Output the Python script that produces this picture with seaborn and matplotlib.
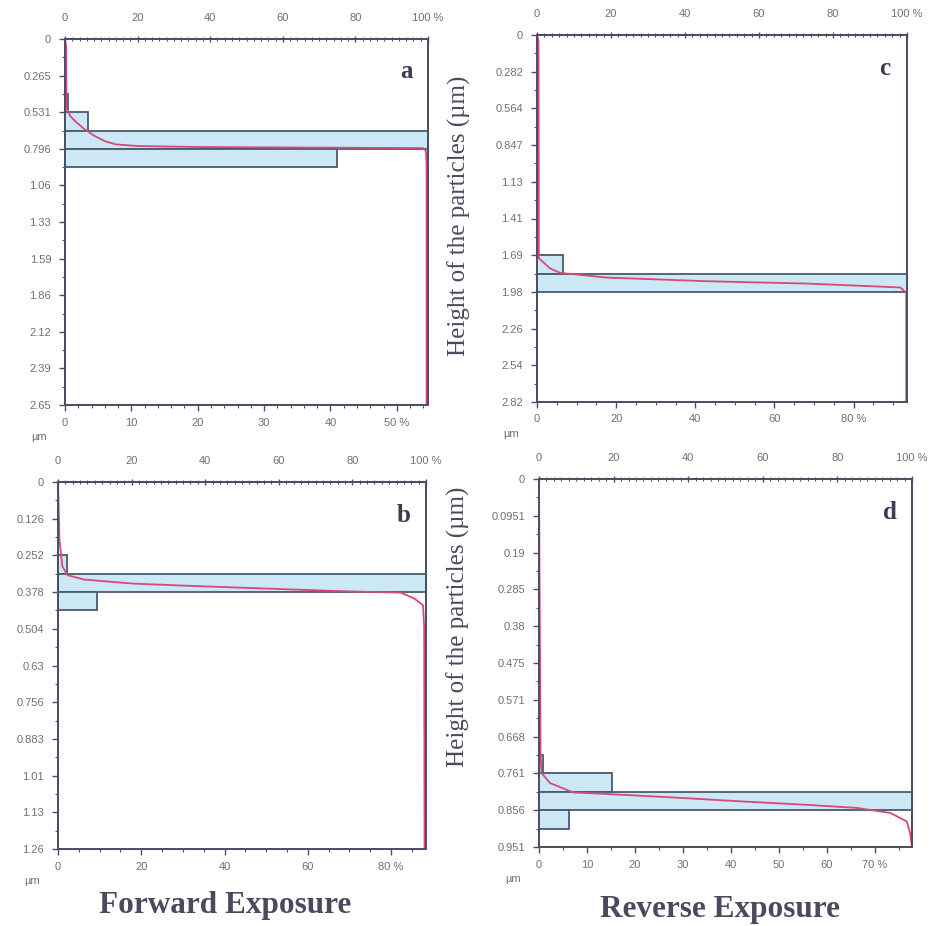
import numpy as np
import pandas as pd
import matplotlib
matplotlib.use("Agg")
import matplotlib.pyplot as plt
from matplotlib.ticker import FixedLocator, MultipleLocator
import seaborn as sns

# ---- panel a (forward exposure) ----
a_depth_max = 2.65
a_yticklabels = ["0", "0.265", "0.531", "0.796", "1.06", "1.33", "1.59", "1.86", "2.12", "2.39", "2.65"]
a_bin_height = [0.464, 0.596, 0.729, 0.861]
a_bin_pct = [0.4, 3.5, 54.7, 41.0]
a_curve_pct = [0, 0.3, 0.4, 1.5, 3, 5, 8, 11, 14, 20, 37, 74, 98.6, 99.4, 99.6, 99.6]
a_curve_depth = [0, 0.05, 0.50, 0.56, 0.60, 0.645, 0.70, 0.74, 0.763, 0.775, 0.782, 0.787, 0.79, 0.81, 0.9, 2.65]

# ---- panel b (forward exposure) ----
b_depth_max = 1.26
b_yticklabels = ["0", "0.126", "0.252", "0.378", "0.504", "0.63", "0.756", "0.883", "1.01", "1.13", "1.26"]
b_bin_height = [0.2835, 0.3465, 0.4095]
b_bin_pct = [2.1, 88.4, 9.3]
b_curve_pct = [0, 0.4, 1.2, 2.6, 7.1, 20.6, 38.8, 57, 75, 93.2, 96.8, 99.2, 99.5, 99.6]
b_curve_depth = [0, 0.2, 0.29, 0.32, 0.335, 0.349, 0.358, 0.366, 0.374, 0.38, 0.40, 0.423, 0.5, 1.26]

# ---- panel c (reverse exposure) ----
c_depth_max = 2.82
c_yticklabels = ["0", "0.282", "0.564", "0.847", "1.13", "1.41", "1.69", "1.98", "2.26", "2.54", "2.82"]
c_bin_height = [1.7625, 1.9035]
c_bin_pct = [6.5, 93.5]
c_curve_pct = [0, 0.4, 0.5, 3.6, 6.3, 18.9, 46, 73, 98.2, 99.8, 99.8]
c_curve_depth = [0, 0.05, 1.715, 1.795, 1.828, 1.864, 1.892, 1.91, 1.94, 1.98, 2.82]

# ---- panel d (reverse exposure) ----
d_depth_max = 0.951
d_yticklabels = ["0", "0.0951", "0.19", "0.285", "0.38", "0.475", "0.571", "0.668", "0.761", "0.856", "0.951"]
d_bin_height = [0.737, 0.785, 0.832, 0.880]
d_bin_pct = [0.8, 15.2, 77.8, 6.2]
d_curve_pct = [0, 0.4, 0.7, 3, 9.2, 18.2, 36, 54, 71.8, 85.2, 94.2, 98.6, 99.5, 100]
d_curve_depth = [0, 0.712, 0.76, 0.786, 0.81, 0.814, 0.823, 0.833, 0.842, 0.85, 0.863, 0.885, 0.915, 0.951]

W, H = 941, 926
FILL = "#cde8f5"
EDGE = "#4a5a70"
SPINE = "#4a5068"
RED = "#d84878"
TICKTXT = "#707070"
TEXT = "#4a4a5e"


def px_rect(left, top, right, bottom):
    return [left / W, 1 - bottom / H, (right - left) / W, (bottom - top) / H]


def draw_panel(fig, rect, depth_max, yticklabels, bin_height, bin_pct,
               curve_pct, curve_depth, bottom_step, bottom_minor, letter):
    ax = fig.add_axes(rect)
    hist_df = pd.DataFrame({"height": bin_height, "pct": bin_pct})
    sns.histplot(data=hist_df, y="height", weights="pct", bins=20,
                 binrange=(0, depth_max), ax=ax,
                 color=FILL, alpha=1, edgecolor=EDGE, linewidth=1.3)
    xmax = max(bin_pct)
    ax.set_xlim(0, xmax)
    ax.set_ylim(depth_max, 0)
    ax.set_xlabel("")
    ax.set_ylabel("")

    yt = np.linspace(0, depth_max, 11)
    ax.yaxis.set_major_locator(FixedLocator(yt))
    ax.set_yticklabels(yticklabels)
    ax.yaxis.set_minor_locator(FixedLocator((yt[:-1] + yt[1:]) / 2))
    bt = np.arange(0, xmax, bottom_step)
    ax.xaxis.set_major_locator(FixedLocator(bt))
    ax.set_xticklabels([f"{int(v)}" for v in bt[:-1]] + [f"{int(bt[-1])} %"])
    ax.xaxis.set_minor_locator(MultipleLocator(bottom_minor))
    ax.tick_params(axis="both", which="major", colors=SPINE, labelcolor=TICKTXT,
                   labelsize=8, length=4, width=1)
    ax.tick_params(axis="both", which="minor", colors=SPINE, length=2.5, width=0.8)
    ax.tick_params(axis="y", which="major", pad=6)
    ax.tick_params(axis="x", which="major", pad=5)

    curve_df = pd.DataFrame({"pct": curve_pct, "depth": curve_depth})
    ax2 = ax.twiny()
    sns.lineplot(data=curve_df, x="pct", y="depth", sort=False, estimator=None,
                 ax=ax2, color=RED, linewidth=1.3)
    ax2.set_xlim(0, 100)
    ax2.set_ylim(depth_max, 0)
    ax2.set_xlabel("")
    ax2.set_ylabel("")
    tt = np.arange(0, 101, 20)
    ax2.xaxis.set_major_locator(FixedLocator(tt))
    ax2.set_xticklabels([f"{v}" for v in tt[:-1]] + ["100 %"])
    ax2.xaxis.set_minor_locator(MultipleLocator(2))
    ax2.tick_params(axis="x", which="major", direction="inout", colors=SPINE,
                    labelcolor=TICKTXT, labelsize=8, length=5, width=1, pad=9)
    ax2.tick_params(axis="x", which="minor", direction="inout", colors=SPINE,
                    length=3, width=0.8)

    for a in (ax, ax2):
        for s in a.spines.values():
            s.set_color(SPINE)
            s.set_linewidth(1.4)

    ax.annotate("µm", xy=(0, 0), xycoords="axes fraction", xytext=(-26, -32),
                textcoords="offset pixels", ha="center", va="center",
                fontsize=8, color=TICKTXT)
    ax.text(0.94, 0.91, letter, transform=ax.transAxes, ha="center", va="center",
            fontsize=18, fontweight="bold", family="Liberation Serif", color="#3c3c50")
    return ax


def main():
    sns.set_style("ticks")
    plt.rcParams["font.family"] = ["Liberation Sans", "DejaVu Sans"]

    fig = plt.figure(figsize=(W / 100, H / 100), dpi=100)

    draw_panel(fig, px_rect(65, 39, 428, 405), a_depth_max, a_yticklabels,
               a_bin_height, a_bin_pct, a_curve_pct, a_curve_depth, 10, 2, "a")
    draw_panel(fig, px_rect(58, 482, 426, 849), b_depth_max, b_yticklabels,
               b_bin_height, b_bin_pct, b_curve_pct, b_curve_depth, 20, 5, "b")
    draw_panel(fig, px_rect(537, 35, 907, 402), c_depth_max, c_yticklabels,
               c_bin_height, c_bin_pct, c_curve_pct, c_curve_depth, 20, 5, "c")
    draw_panel(fig, px_rect(539, 479, 912, 847), d_depth_max, d_yticklabels,
               d_bin_height, d_bin_pct, d_curve_pct, d_curve_depth, 10, 5, "d")

    ylab = "Height of the particles (µm)"
    fig.text(459 / W, 1 - 216 / H, ylab, rotation=90, ha="center", va="center",
             fontsize=18, family="Liberation Serif", color=TEXT)
    fig.text(458 / W, 1 - 627 / H, ylab, rotation=90, ha="center", va="center",
             fontsize=18, family="Liberation Serif", color=TEXT)

    fig.text(225 / W, 1 - 905 / H, "Forward Exposure", ha="center", va="center",
             fontsize=22.5, fontweight="bold", family="Liberation Serif", color=TEXT)
    fig.text(720 / W, 1 - 910 / H, "Reverse Exposure", ha="center", va="center",
             fontsize=22.5, fontweight="bold", family="Liberation Serif", color=TEXT)

    fig.savefig("out.png", dpi=100)


if __name__ == "__main__":
    main()
